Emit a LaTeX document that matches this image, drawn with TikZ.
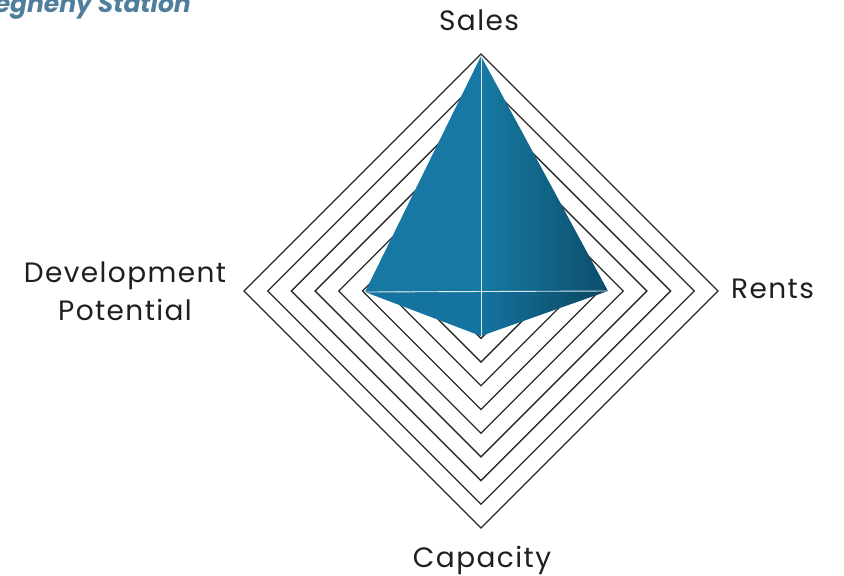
\documentclass[tikz,border=0pt]{standalone}
\usepackage{fontspec}
\usetikzlibrary{calc}
\setmainfont{Poppins}
\definecolor{ringcol}{HTML}{2A2A2A}
\definecolor{titlecol}{HTML}{4F7F9C}
\definecolor{tealA}{HTML}{1779A3}
\definecolor{tealB}{HTML}{0B4E6A}
\definecolor{tealC}{HTML}{1473A0}
\tikzset{
  ring/.style={draw=ringcol, line width=1.3pt, line join=miter},
  axislbl/.style={font=\fontsize{28}{32}\selectfont\addfontfeature{LetterSpace=5}, text=black!88, inner sep=0pt},
  axisline/.style={draw=white, line width=0.9pt, opacity=0.85},
}
\begin{document}
\begin{tikzpicture}[x=1pt,y=-1pt]
\useasboundingbox (0,0) rectangle (844,576);
\begin{scope}
\clip (0,0) rectangle (844,576);
\node[anchor=base east, inner sep=0pt, text=titlecol, font=\fontsize{25}{28}\selectfont\bfseries\itshape] (title) at (191,12.5) {Allegheny Station};
\end{scope}
% rings
\coordinate (c) at (481,291);
\foreach \k in {1,...,10}{
  \pgfmathsetmacro{\r}{23.7*\k}
  \draw[ring] ($(c)+(0,-\r)$) -- ($(c)+(\r,0)$) -- ($(c)+(0,\r)$) -- ($(c)+(-\r,0)$) -- cycle;
}
% polygon
\coordinate (pt) at (481,56);
\coordinate (pr) at (608,291);
\coordinate (pb) at (481,336);
\coordinate (pl) at (365,292);
\fill[tealA] (pt) -- (c) -- (pl) -- cycle;
\shade[left color=tealA, right color=tealB] (pt) -- (pr) -- (c) -- cycle;
\fill[tealC] (pl) -- (c) -- (pb) -- cycle;
\shade[left color=tealC, right color=tealB!90!black] (c) -- (pr) -- (pb) -- cycle;
\draw[axisline] (pt) -- (pb);
\draw[axisline] (pl) -- (pr);
% labels
\node[axislbl, anchor=base] (sales) at (479,30.5) {Sales};
\node[axislbl, anchor=base west] (rents) at (731,298) {Rents};
\node[axislbl, anchor=base] (cap) at (482,567) {Capacity};
\node[axislbl, anchor=base] (dev1) at (125,282) {Development};
\node[axislbl, anchor=base] (dev2) at (125,320) {Potential};
\end{tikzpicture}
\end{document}
